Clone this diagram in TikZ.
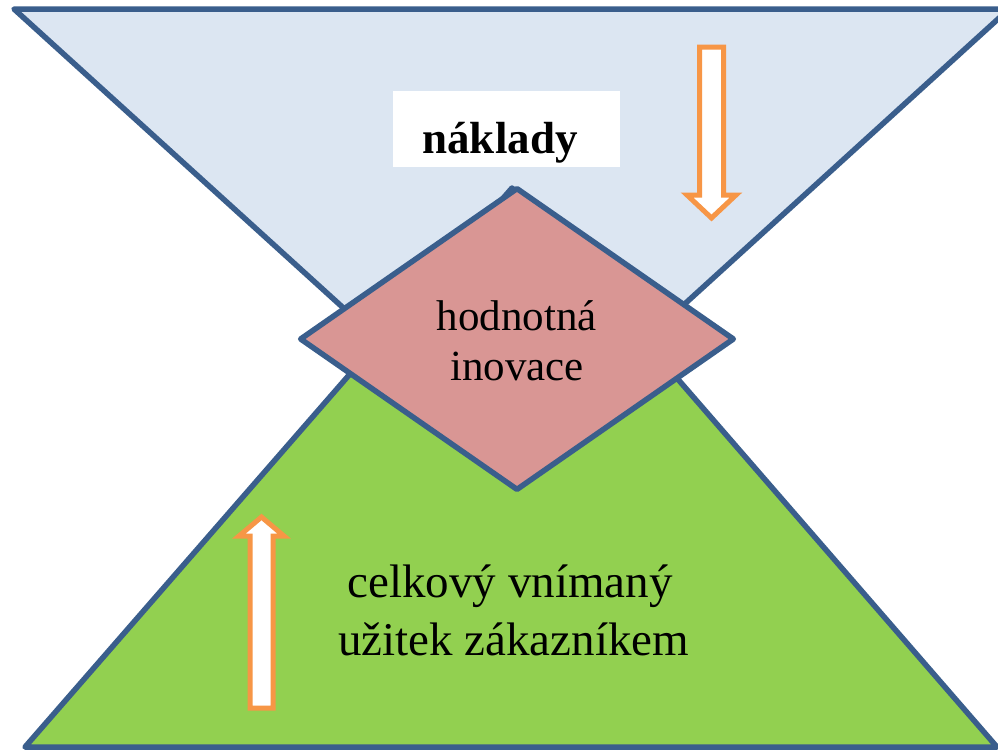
\documentclass[tikz,border=0pt]{standalone}
\usepackage{fontspec}
\setmainfont{Liberation Serif}
\usetikzlibrary{shapes.geometric}
\definecolor{edgeblue}{HTML}{3A5E8C}
\definecolor{topfill}{HTML}{DCE6F2}
\definecolor{botfill}{HTML}{92D050}
\definecolor{dmdfill}{HTML}{D99694}
\definecolor{arrorange}{HTML}{F79646}
\tikzset{
  tri/.style={draw=edgeblue, line width=5.5pt, line join=round},
  blockarrow/.style={draw=arrorange, fill=white, line width=5pt, line join=miter},
  lbl/.style={anchor=base, inner sep=0pt, text=black}
}
\begin{document}
\begin{tikzpicture}[x=1pt,y=-1pt]
\useasboundingbox (0,0) rectangle (998,753);
\clip (0,0) rectangle (998,753);
\fill[white] (0,0) rectangle (998,753);
% corners
\coordinate (tl) at (14,9);
\coordinate (tr) at (1009,9);
\coordinate (ta) at (512,461);
\coordinate (bl) at (25,747);
\coordinate (br) at (997,747);
\coordinate (ba) at (512,188);
% top triangle (costs)
\path[tri, fill=topfill] (tl) -- (tr) -- (ta) -- cycle;
% bottom triangle (benefit)
\path[tri, fill=botfill] (bl) -- (br) -- (ba) -- cycle;
% diamond
\node[diamond, draw=edgeblue, fill=dmdfill, line width=5.5pt, line join=round,
      minimum width=435pt, minimum height=303pt, inner sep=0pt] (dmd) at (517,339) {};
% texts
\node[fill=white, minimum width=227pt, minimum height=76pt, inner sep=0pt] (nbox) at (506.5,129) {};
\node[lbl, font=\bfseries\fontsize{45}{54}\selectfont] (naklady) at (500,153) {náklady};
\node[lbl, font=\fontsize{43}{50}\selectfont] (hod1) at (517,330) {hodnotná};
\node[lbl, font=\fontsize{43}{50}\selectfont] (hod2) at (517,380) {inovace};
\node[lbl, font=\fontsize{47}{58}\selectfont] (cel1) at (510,597) {celkový vnímaný};
\node[lbl, font=\fontsize{47}{58}\selectfont] (cel2) at (513.5,655) {užitek zákazníkem};
% down arrow (top right)
\path[blockarrow] (699.5,47) -- (723.5,47) -- (723.5,195) -- (736,195) -- (711.5,218)
  -- (687,195) -- (699.5,195) -- cycle;
% up arrow (bottom left)
\path[blockarrow] (250,708) -- (273,708) -- (273,536) -- (284,536) -- (261.5,517)
  -- (239,536) -- (250,536) -- cycle;
\end{tikzpicture}
\end{document}
